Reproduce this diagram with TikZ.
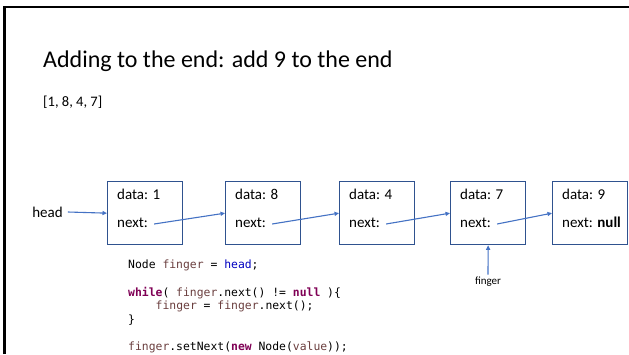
\documentclass[tikz,border=0pt]{standalone}
\usepackage{fontspec}
\setmainfont{Carlito}
\setmonofont{DejaVu Sans Mono}
\usepackage{tikz}
\usetikzlibrary{arrows.meta}
\definecolor{boxblue}{RGB}{47, 82, 143}
\definecolor{linkblue}{RGB}{68, 114, 196}
\definecolor{kwpurple}{RGB}{127, 0, 85}
\definecolor{varbrown}{RGB}{106, 62, 62}
\definecolor{fieldblue}{RGB}{0, 0, 192}
\newcommand{\codekw}[1]{\textcolor{kwpurple}{\textbf{#1}}}
\newcommand{\codevar}[1]{\textcolor{varbrown}{#1}}
\newcommand{\codefld}[1]{\textcolor{fieldblue}{#1}}

\begin{document}
\begin{tikzpicture}[x=1pt, y=-1pt,
  cell/.style={draw=boxblue, line width=1.3pt, fill=white, minimum width=75pt, minimum height=63pt, anchor=north west, inner sep=0pt},
  celltext/.style={anchor=base west, inner sep=0pt, font=\fontsize{15}{18}\selectfont},
  link/.style={linkblue, line width=1.1pt, -{Triangle[length=4.5pt, width=4pt]}},
  code/.style={anchor=base west, inner sep=0pt, font=\fontsize{11.4}{13.5}\ttfamily}]

\useasboundingbox (0,0) rectangle (629,354);

% Slide frame
\draw[line width=2.5pt] (4.5,354) -- (4.5,7) -- (629,7);

% Title and list
\node[anchor=base west, inner sep=0pt, font=\fontsize{24}{28}\selectfont] (title) at (43,67) {Adding to the end: add 9 to the end};
\node[anchor=base west, inner sep=0pt, font=\fontsize{14.5}{17}\selectfont] (list) at (43,106) {[1, 8, 4, 7]};

% Boxes
\foreach \i/\x/\d in {1/107/1, 2/225/8, 3/339/4, 4/450/7} {
  \node[cell] (b\i) at (\x,181) {};
  \node[celltext] (d\i) at (\x+10,199) {data: \d};
  \node[celltext] (n\i) at (\x+10,227) {next:};
}
\node[cell] (b5) at (552,181) {};
\node[celltext] (d5) at (562,199) {data: 9};
\node[celltext] (n5) at (562,227) {next: \textbf{null}};

% Links
\foreach \i [evaluate=\i as \j using int(\i+1)] in {1,...,4} {
  \draw[link] ([xshift=6pt, yshift=3pt]n\i.base east) -- (b\j.west);
}

% head and finger
\node[inner sep=5pt, font=\fontsize{15}{18}\selectfont] (head) at (47.5,212) {head};
\draw[link] (head.east) -- (b1.west);
\node[anchor=base, inner sep=2pt, font=\fontsize{11}{13}\selectfont] (finger) at (488,284.5) {finger};
\draw[link] (finger.north) -- (b4.south);

% Code
\node[code] (c1) at (128,268) {Node \codevar{finger} = \codefld{head};};
\node[code] (c2) at (128,296) {\codekw{while}( \codevar{finger}.next() != \codekw{null} )\{};
\node[code] (c3) at (155.5,309.5) {\codevar{finger} = \codevar{finger}.next();};
\node[code] (c4) at (128,323) {\}};
\node[code] (c5) at (128,350) {\codevar{finger}.setNext(\codekw{new} Node(\codevar{value}));};

\end{tikzpicture}
\end{document}
